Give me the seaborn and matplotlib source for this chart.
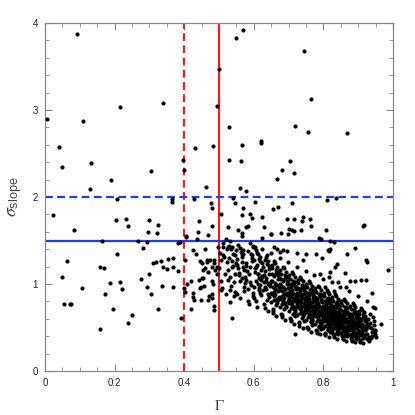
import matplotlib
matplotlib.use("Agg")
import matplotlib.pyplot as plt
import numpy as np
import pandas as pd
import seaborn as sns
from matplotlib.ticker import MultipleLocator

# scattered points (outliers above the cuts and left of gamma = 0.5)
sparse_x = [
    0.093, 0.006, 0.039, 0.049, 0.108, 0.131, 0.129, 0.191, 0.206, 0.215,
    0.305, 0.338, 0.364, 0.365, 0.397, 0.400, 0.432, 0.427, 0.463, 0.477,
    0.481, 0.482, 0.494, 0.500, 0.529, 0.530, 0.548, 0.570, 0.566, 0.562,
    0.559, 0.577, 0.541, 0.545, 0.568, 0.604, 0.620, 0.621, 0.655, 0.670,
    0.668, 0.680, 0.704, 0.715, 0.711, 0.718, 0.743, 0.763, 0.755, 0.809,
    0.837, 0.867, 0.024, 0.084, 0.205, 0.233, 0.238, 0.163, 0.062, 0.206,
    0.505, 0.298, 0.325, 0.297, 0.322, 0.442, 0.441, 0.481, 0.467, 0.404,
    0.406, 0.437, 0.266, 0.293, 0.281, 0.381, 0.388, 0.424, 0.460, 0.498,
    0.511, 0.433, 0.446, 0.466, 0.487, 0.506, 0.511, 0.311, 0.318, 0.333,
    0.353, 0.368, 0.402, 0.566, 0.590, 0.595, 0.624, 0.526, 0.554, 0.578,
    0.583, 0.566, 0.629, 0.650, 0.678, 0.696, 0.716, 0.740, 0.738, 0.762,
    0.764, 0.701, 0.709, 0.716, 0.736, 0.697, 0.623, 0.519, 0.807, 0.915,
    0.918, 0.788, 0.793, 0.820, 0.830, 0.819, 0.816, 0.779, 0.869, 0.891,
    0.921, 0.924, 0.839, 0.049, 0.159, 0.171, 0.105, 0.186, 0.216, 0.220,
    0.172, 0.056, 0.071, 0.076, 0.196, 0.251, 0.239, 0.158, 0.275, 0.300,
    0.339, 0.351, 0.367, 0.381, 0.293, 0.306, 0.335, 0.367, 0.326, 0.392,
    0.400, 0.403, 0.407, 0.420, 0.426, 0.424, 0.429, 0.420, 0.443, 0.454,
    0.448, 0.444, 0.456, 0.447, 0.469, 0.471, 0.455, 0.468, 0.479, 0.489,
    0.494, 0.481, 0.483, 0.481, 0.479, 0.487, 0.485, 0.506, 0.493, 0.538,
    0.717, 0.966, 0.951, 0.949, 0.943, 0.941, 0.985, 0.921, 0.907, 0.862,
    0.876, 0.891, 0.819, 0.833, 0.742, 0.814, 0.565, 0.649, 0.532, 0.527,
    0.534, 0.589, 0.603, 0.599, 0.565, 0.568, 0.658, 0.666, 0.675, 0.685,
    0.694, 0.723, 0.750, 0.795, 0.474, 0.486, 0.465, 0.450, 0.460, 0.450,
]
sparse_y = [
    3.87, 2.90, 2.57, 2.35, 2.87, 2.39, 2.09, 2.20, 1.98, 3.03,
    2.30, 3.08, 1.98, 1.94, 2.43, 2.31, 2.56, 1.98, 2.12, 1.93,
    1.87, 2.59, 3.05, 3.47, 2.80, 2.43, 3.83, 3.92, 2.60, 2.41,
    2.10, 2.07, 1.99, 1.93, 1.87, 1.94, 2.64, 2.62, 1.86, 1.89,
    2.21, 2.31, 2.41, 2.28, 1.93, 2.82, 3.68, 3.13, 2.75, 1.97,
    1.99, 2.74, 1.79, 1.62, 1.73, 1.75, 1.67, 1.50, 1.27, 1.34,
    1.81, 1.73, 1.68, 1.60, 1.59, 1.72, 1.60, 1.67, 1.56, 1.55,
    1.54, 1.52, 1.50, 1.48, 1.41, 1.47, 1.48, 1.39, 1.40, 1.42,
    1.47, 1.34, 1.26, 1.28, 1.28, 1.28, 1.33, 1.24, 1.25, 1.27,
    1.29, 1.30, 1.28, 1.79, 1.80, 1.76, 1.77, 1.66, 1.62, 1.66,
    1.67, 1.59, 1.66, 1.57, 1.59, 1.75, 1.75, 1.77, 1.72, 1.75,
    1.67, 1.63, 1.62, 1.61, 1.62, 1.58, 1.53, 1.52, 1.62, 1.67,
    1.68, 1.53, 1.52, 1.49, 1.48, 1.40, 1.38, 1.35, 1.34, 1.41,
    1.28, 1.25, 1.23, 1.08, 1.20, 1.18, 0.95, 1.01, 1.02, 0.94,
    0.88, 0.77, 0.77, 0.77, 0.71, 0.64, 0.55, 0.48, 1.06, 1.11,
    1.19, 1.17, 1.20, 1.15, 0.97, 0.89, 0.98, 0.96, 0.71, 0.61,
    0.95, 0.91, 1.00, 1.04, 0.90, 0.85, 0.82, 0.71, 1.05, 1.07,
    0.96, 0.95, 0.98, 0.82, 0.82, 0.86, 1.16, 1.14, 1.19, 1.16,
    1.12, 1.03, 1.00, 0.89, 0.84, 0.75, 0.70, 0.93, 1.20, 0.61,
    0.42, 0.54, 0.39, 0.47, 0.73, 0.90, 1.16, 1.05, 1.05, 1.13,
    1.04, 1.03, 1.14, 1.20, 1.28, 1.39, 1.55, 1.57, 1.50, 1.42,
    1.40, 1.47, 1.43, 1.44, 1.35, 1.39, 1.42, 1.40, 1.37, 1.39,
    1.38, 1.36, 1.35, 1.30, 1.28, 1.24, 1.25, 1.24, 1.18, 1.07,
]

# the dense cloud, read column by column from left to right
cluster_x = [
    0.503, 0.518, 0.509, 0.522, 0.512, 0.506, 0.520, 0.515, 0.501, 0.524,
    0.528, 0.541, 0.535, 0.547, 0.531, 0.544, 0.538, 0.526, 0.549, 0.533,
    0.542, 0.529, 0.546, 0.537, 0.532, 0.548, 0.527, 0.540, 0.545, 0.536,
    0.553, 0.566, 0.559, 0.572, 0.556, 0.569, 0.561, 0.551, 0.574, 0.563,
    0.558, 0.571, 0.554, 0.567, 0.560, 0.573, 0.552, 0.565, 0.570, 0.557,
    0.578, 0.591, 0.584, 0.597, 0.581, 0.594, 0.587, 0.576, 0.599, 0.589,
    0.583, 0.596, 0.579, 0.592, 0.586, 0.598, 0.577, 0.590, 0.595, 0.582,
    0.603, 0.616, 0.609, 0.622, 0.606, 0.619, 0.611, 0.601, 0.624, 0.613,
    0.608, 0.621, 0.604, 0.617, 0.610, 0.623, 0.602, 0.615, 0.620, 0.607,
    0.612, 0.618, 0.605, 0.614, 0.625, 0.600, 0.611, 0.619, 0.606, 0.616,
    0.628, 0.641, 0.634, 0.647, 0.631, 0.644, 0.636, 0.626, 0.649, 0.638,
    0.633, 0.646, 0.629, 0.642, 0.635, 0.648, 0.627, 0.640, 0.645, 0.632,
    0.637, 0.643, 0.630, 0.639, 0.650, 0.625, 0.636, 0.644, 0.631, 0.641,
    0.653, 0.666, 0.659, 0.672, 0.656, 0.669, 0.661, 0.651, 0.674, 0.663,
    0.658, 0.671, 0.654, 0.667, 0.660, 0.673, 0.652, 0.665, 0.670, 0.657,
    0.662, 0.668, 0.655, 0.664, 0.675, 0.650, 0.661, 0.669, 0.656, 0.666,
    0.659, 0.672, 0.653, 0.667, 0.662, 0.674, 0.657, 0.664, 0.670, 0.651,
    0.678, 0.691, 0.684, 0.697, 0.681, 0.694, 0.686, 0.676, 0.699, 0.688,
    0.683, 0.696, 0.679, 0.692, 0.685, 0.698, 0.677, 0.690, 0.695, 0.682,
    0.687, 0.693, 0.680, 0.689, 0.700, 0.675, 0.686, 0.694, 0.681, 0.691,
    0.684, 0.697, 0.678, 0.692, 0.687, 0.699, 0.682, 0.689, 0.695, 0.676,
    0.703, 0.716, 0.709, 0.722, 0.706, 0.719, 0.711, 0.701, 0.724, 0.713,
    0.708, 0.721, 0.704, 0.717, 0.710, 0.723, 0.702, 0.715, 0.720, 0.707,
    0.712, 0.718, 0.705, 0.714, 0.725, 0.700, 0.711, 0.719, 0.706, 0.716,
    0.709, 0.722, 0.703, 0.717, 0.712, 0.724, 0.707, 0.714, 0.720, 0.701,
    0.705, 0.718, 0.710, 0.723, 0.708, 0.715, 0.702, 0.721, 0.713, 0.719,
    0.728, 0.741, 0.734, 0.747, 0.731, 0.744, 0.736, 0.726, 0.749, 0.738,
    0.733, 0.746, 0.729, 0.742, 0.735, 0.748, 0.727, 0.740, 0.745, 0.732,
    0.737, 0.743, 0.730, 0.739, 0.750, 0.725, 0.736, 0.744, 0.731, 0.741,
    0.734, 0.747, 0.728, 0.742, 0.737, 0.749, 0.732, 0.739, 0.745, 0.726,
    0.730, 0.743, 0.735, 0.748, 0.733, 0.740, 0.727, 0.746, 0.738, 0.744,
    0.753, 0.766, 0.759, 0.772, 0.756, 0.769, 0.761, 0.751, 0.774, 0.763,
    0.758, 0.771, 0.754, 0.767, 0.760, 0.773, 0.752, 0.765, 0.770, 0.757,
    0.762, 0.768, 0.755, 0.764, 0.775, 0.750, 0.761, 0.769, 0.756, 0.766,
    0.759, 0.772, 0.753, 0.767, 0.762, 0.774, 0.757, 0.764, 0.770, 0.751,
    0.755, 0.768, 0.760, 0.773, 0.758, 0.765, 0.752, 0.771, 0.763, 0.769,
    0.754, 0.767, 0.761, 0.774, 0.756, 0.763, 0.750, 0.770, 0.759, 0.766,
    0.778, 0.791, 0.784, 0.797, 0.781, 0.794, 0.786, 0.776, 0.799, 0.788,
    0.783, 0.796, 0.779, 0.792, 0.785, 0.798, 0.777, 0.790, 0.795, 0.782,
    0.787, 0.793, 0.780, 0.789, 0.800, 0.775, 0.786, 0.794, 0.781, 0.791,
    0.784, 0.797, 0.778, 0.792, 0.787, 0.799, 0.782, 0.789, 0.795, 0.776,
    0.780, 0.793, 0.785, 0.798, 0.783, 0.790, 0.777, 0.796, 0.788, 0.794,
    0.779, 0.792, 0.786, 0.799, 0.781, 0.788, 0.775, 0.795, 0.784, 0.791,
    0.803, 0.816, 0.809, 0.822, 0.806, 0.819, 0.811, 0.801, 0.824, 0.813,
    0.808, 0.821, 0.804, 0.817, 0.810, 0.823, 0.802, 0.815, 0.820, 0.807,
    0.812, 0.818, 0.805, 0.814, 0.825, 0.800, 0.811, 0.819, 0.806, 0.816,
    0.809, 0.822, 0.803, 0.817, 0.812, 0.824, 0.807, 0.814, 0.820, 0.801,
    0.805, 0.818, 0.810, 0.823, 0.808, 0.815, 0.802, 0.821, 0.813, 0.819,
    0.804, 0.817, 0.811, 0.824, 0.806, 0.813, 0.800, 0.820, 0.809, 0.816,
    0.802, 0.815, 0.808, 0.821, 0.804, 0.818, 0.810, 0.823, 0.806, 0.812,
    0.828, 0.841, 0.834, 0.847, 0.831, 0.844, 0.836, 0.826, 0.849, 0.838,
    0.833, 0.846, 0.829, 0.842, 0.835, 0.848, 0.827, 0.840, 0.845, 0.832,
    0.837, 0.843, 0.830, 0.839, 0.850, 0.825, 0.836, 0.844, 0.831, 0.841,
    0.834, 0.847, 0.828, 0.842, 0.837, 0.849, 0.832, 0.839, 0.845, 0.826,
    0.830, 0.843, 0.835, 0.848, 0.833, 0.840, 0.827, 0.846, 0.838, 0.844,
    0.829, 0.842, 0.836, 0.849, 0.831, 0.838, 0.825, 0.845, 0.834, 0.841,
    0.827, 0.840, 0.833, 0.846, 0.829, 0.843, 0.835, 0.848, 0.831, 0.837,
    0.853, 0.866, 0.859, 0.872, 0.856, 0.869, 0.861, 0.851, 0.874, 0.863,
    0.858, 0.871, 0.854, 0.867, 0.860, 0.873, 0.852, 0.865, 0.870, 0.857,
    0.862, 0.868, 0.855, 0.864, 0.875, 0.850, 0.861, 0.869, 0.856, 0.866,
    0.859, 0.872, 0.853, 0.867, 0.862, 0.874, 0.857, 0.864, 0.870, 0.851,
    0.855, 0.868, 0.860, 0.873, 0.858, 0.865, 0.852, 0.871, 0.863, 0.869,
    0.854, 0.867, 0.861, 0.874, 0.856, 0.863, 0.850, 0.870, 0.859, 0.866,
    0.878, 0.891, 0.884, 0.897, 0.881, 0.894, 0.886, 0.876, 0.899, 0.888,
    0.883, 0.896, 0.879, 0.892, 0.885, 0.898, 0.877, 0.890, 0.895, 0.882,
    0.887, 0.893, 0.880, 0.889, 0.900, 0.875, 0.886, 0.894, 0.881, 0.891,
    0.884, 0.897, 0.878, 0.892, 0.887, 0.899, 0.882, 0.889, 0.895, 0.876,
    0.880, 0.893, 0.885, 0.898, 0.883, 0.890, 0.877, 0.896, 0.888, 0.894,
    0.903, 0.916, 0.909, 0.922, 0.906, 0.919, 0.911, 0.901, 0.924, 0.913,
    0.908, 0.921, 0.904, 0.917, 0.910, 0.923, 0.902, 0.915, 0.920, 0.907,
    0.912, 0.918, 0.905, 0.914, 0.925, 0.900, 0.911, 0.919, 0.906, 0.916,
    0.909, 0.922, 0.903, 0.917, 0.912, 0.924, 0.907, 0.914, 0.920, 0.901,
    0.928, 0.941, 0.934, 0.947, 0.931, 0.944, 0.936, 0.926, 0.949, 0.938,
    0.933, 0.946, 0.929, 0.942, 0.935, 0.948, 0.927, 0.940, 0.945, 0.932,
]
cluster_y = [
    1.36, 1.12, 0.95, 1.25, 1.43, 1.04, 0.88, 1.31, 1.18, 1.40,
    1.44, 1.21, 0.98, 1.33, 1.08, 0.86, 1.27, 1.16, 1.39, 0.93,
    1.02, 1.30, 1.12, 1.42, 0.79, 1.24, 1.05, 1.35, 0.91, 1.19,
    1.29, 1.07, 1.41, 0.92, 1.18, 1.34, 0.84, 1.22, 1.01, 1.37,
    1.13, 0.96, 1.45, 1.25, 1.04, 1.16, 0.88, 1.31, 1.20, 1.10,
    1.24, 0.99, 1.38, 0.86, 1.15, 1.30, 0.77, 1.08, 1.42, 1.19,
    0.94, 1.27, 1.05, 1.35, 1.12, 0.90, 1.21, 1.02, 1.33, 0.81,
    1.18, 0.93, 1.36, 1.05, 0.80, 1.26, 1.11, 0.97, 1.40, 1.00,
    1.22, 0.87, 1.14, 1.31, 0.74, 1.08, 1.28, 0.95, 1.16, 1.03,
    1.34, 0.90, 1.20, 1.07, 1.24, 0.84, 1.12, 0.99, 1.39, 1.29,
    1.10, 0.88, 1.31, 0.98, 0.72, 1.21, 1.04, 0.93, 1.36, 0.82,
    1.15, 1.01, 0.77, 1.26, 1.07, 0.90, 1.19, 0.69, 1.12, 0.96,
    1.33, 0.85, 1.02, 1.23, 0.79, 1.09, 0.94, 1.17, 1.28, 1.00,
    1.04, 0.83, 1.26, 0.93, 0.67, 1.14, 0.98, 0.88, 1.30, 0.76,
    1.09, 0.95, 0.71, 1.20, 1.01, 0.85, 1.12, 0.63, 1.06, 0.91,
    1.24, 0.80, 0.97, 1.16, 0.74, 1.03, 0.89, 1.10, 0.69, 0.99,
    0.86, 1.07, 1.18, 0.78, 0.94, 1.00, 0.82, 1.13, 0.92, 1.22,
    0.98, 0.78, 1.20, 0.88, 0.62, 1.08, 0.93, 0.83, 1.25, 0.71,
    1.03, 0.90, 0.66, 1.14, 0.96, 0.80, 1.06, 0.59, 1.00, 0.86,
    1.18, 0.75, 0.92, 1.10, 0.69, 0.97, 0.84, 1.04, 0.64, 0.94,
    0.81, 1.01, 1.12, 0.73, 0.89, 0.95, 0.77, 1.07, 0.87, 1.16,
    0.92, 0.73, 1.14, 0.83, 0.57, 1.02, 0.88, 0.78, 1.20, 0.66,
    0.97, 0.85, 0.61, 1.08, 0.91, 0.75, 1.00, 0.54, 0.94, 0.81,
    1.12, 0.70, 0.87, 1.04, 0.64, 0.90, 0.79, 0.98, 0.59, 0.89,
    0.76, 0.95, 1.06, 0.68, 0.84, 0.90, 0.72, 1.01, 0.82, 1.10,
    0.86, 0.63, 0.93, 0.77, 0.99, 0.71, 0.84, 0.96, 0.74, 0.80,
    0.87, 0.68, 1.08, 0.78, 0.52, 0.97, 0.83, 0.73, 1.15, 0.61,
    0.92, 0.80, 0.56, 1.03, 0.86, 0.70, 0.95, 0.49, 0.89, 0.76,
    1.06, 0.65, 0.82, 0.99, 0.59, 0.85, 0.74, 0.93, 0.55, 0.84,
    0.71, 0.90, 1.01, 0.63, 0.79, 0.85, 0.67, 0.96, 0.77, 1.05,
    0.81, 0.58, 0.88, 0.72, 0.94, 0.66, 0.79, 0.91, 0.69, 0.75,
    0.82, 0.63, 1.03, 0.73, 0.48, 0.92, 0.78, 0.68, 1.10, 0.57,
    0.87, 0.75, 0.51, 0.98, 0.81, 0.65, 0.90, 0.45, 0.84, 0.71,
    1.01, 0.60, 0.77, 0.94, 0.54, 0.80, 0.69, 0.88, 0.50, 0.79,
    0.66, 0.85, 0.96, 0.58, 0.74, 0.80, 0.62, 0.91, 0.72, 1.00,
    0.76, 0.53, 0.83, 0.67, 0.89, 0.61, 0.74, 0.86, 0.64, 0.70,
    0.78, 0.59, 0.93, 0.72, 0.84, 0.56, 0.97, 0.68, 0.81, 0.75,
    0.77, 0.58, 0.98, 0.68, 0.44, 0.87, 0.73, 0.63, 1.06, 0.52,
    0.82, 0.70, 0.47, 0.93, 0.76, 0.60, 0.85, 0.42, 0.79, 0.66,
    0.96, 0.55, 0.72, 0.89, 0.49, 0.75, 0.64, 0.83, 0.46, 0.74,
    0.61, 0.80, 0.91, 0.53, 0.69, 0.75, 0.57, 0.86, 0.67, 0.95,
    0.71, 0.48, 0.78, 0.62, 0.84, 0.56, 0.69, 0.81, 0.59, 0.65,
    0.73, 0.54, 0.88, 0.67, 0.79, 0.51, 0.92, 0.63, 0.76, 1.12,
    0.72, 0.54, 0.93, 0.63, 0.41, 0.82, 0.68, 0.58, 1.02, 0.48,
    0.77, 0.65, 0.44, 0.88, 0.71, 0.56, 0.80, 0.39, 0.74, 0.61,
    0.91, 0.51, 0.67, 0.84, 0.46, 0.70, 0.59, 0.78, 0.43, 0.69,
    0.57, 0.75, 0.86, 0.49, 0.64, 0.70, 0.53, 0.81, 0.62, 0.90,
    0.66, 0.45, 0.73, 0.58, 0.79, 0.52, 0.64, 0.76, 0.55, 0.60,
    0.68, 0.50, 0.83, 0.62, 0.74, 0.47, 0.87, 0.59, 0.71, 1.08,
    0.63, 0.56, 0.77, 0.66, 0.52, 0.72, 0.60, 0.69, 0.97, 0.57,
    0.67, 0.50, 0.88, 0.59, 0.39, 0.77, 0.63, 0.54, 0.97, 0.45,
    0.72, 0.61, 0.42, 0.83, 0.66, 0.52, 0.75, 0.37, 0.69, 0.57,
    0.86, 0.48, 0.63, 0.79, 0.44, 0.65, 0.55, 0.73, 0.41, 0.64,
    0.53, 0.70, 0.81, 0.46, 0.60, 0.66, 0.49, 0.76, 0.58, 0.85,
    0.62, 0.43, 0.68, 0.54, 0.74, 0.48, 0.60, 0.71, 0.51, 0.56,
    0.64, 0.47, 0.78, 0.58, 0.69, 0.44, 0.82, 0.55, 0.67, 1.02,
    0.59, 0.52, 0.72, 0.62, 0.49, 0.67, 0.56, 0.64, 0.92, 0.53,
    0.63, 0.47, 0.83, 0.55, 0.37, 0.72, 0.59, 0.50, 0.92, 0.42,
    0.67, 0.57, 0.40, 0.78, 0.62, 0.48, 0.70, 0.35, 0.65, 0.53,
    0.81, 0.45, 0.59, 0.74, 0.41, 0.61, 0.51, 0.68, 0.38, 0.60,
    0.49, 0.66, 0.76, 0.43, 0.56, 0.62, 0.46, 0.71, 0.54, 0.80,
    0.58, 0.40, 0.64, 0.50, 0.69, 0.44, 0.56, 0.67, 0.47, 0.52,
    0.60, 0.44, 0.73, 0.54, 0.65, 0.41, 0.77, 0.51, 0.63, 0.97,
    0.59, 0.44, 0.78, 0.51, 0.35, 0.68, 0.55, 0.47, 0.86, 0.40,
    0.63, 0.53, 0.38, 0.73, 0.58, 0.45, 0.66, 0.33, 0.61, 0.49,
    0.76, 0.42, 0.56, 0.70, 0.39, 0.57, 0.48, 0.64, 0.36, 0.56,
    0.46, 0.62, 0.71, 0.41, 0.52, 0.58, 0.43, 0.67, 0.50, 0.75,
    0.54, 0.37, 0.60, 0.47, 0.65, 0.41, 0.52, 0.63, 0.44, 0.49,
    0.55, 0.41, 0.72, 0.48, 0.33, 0.63, 0.51, 0.44, 0.80, 0.38,
    0.59, 0.50, 0.36, 0.68, 0.54, 0.42, 0.61, 0.32, 0.57, 0.46,
    0.70, 0.39, 0.52, 0.65, 0.37, 0.53, 0.45, 0.60, 0.35, 0.52,
    0.43, 0.58, 0.66, 0.40, 0.49, 0.54, 0.41, 0.62, 0.47, 0.69,
    0.52, 0.40, 0.66, 0.46, 0.35, 0.58, 0.49, 0.43, 0.72, 0.38,
    0.55, 0.47, 0.37, 0.62, 0.51, 0.42, 0.60, 0.45, 0.53, 0.39,
]

# selection cuts
gamma_cuts = [0.4, 0.5]
sigma_cuts = [1.5, 2.0]

df = pd.DataFrame({
    "gamma": sparse_x + cluster_x,
    "sigma": sparse_y + cluster_y,
})

sns.set_style("ticks")
plt.rcParams["font.family"] = ["Liberation Sans", "DejaVu Sans"]
plt.rcParams["mathtext.fontset"] = "stix"

fig = plt.figure(figsize=(4.15, 4.15), dpi=100)
ax = fig.add_axes([0.1084, 0.106, 0.8386, 0.8386])

# cut lines drawn first, points on top
ax.axvline(gamma_cuts[0], color="#ff1a1a", lw=1.6, ls=(0, (3.5, 2)), zorder=1)
ax.axvline(gamma_cuts[1], color="#ff1a1a", lw=1.6, zorder=1)
ax.axhline(sigma_cuts[1], color="#1a3cff", lw=1.6, ls=(0, (3.5, 2)), zorder=1)
ax.axhline(sigma_cuts[0], color="#1a3cff", lw=1.6, zorder=1)

sns.scatterplot(data=df, x="gamma", y="sigma", ax=ax, color="black",
                s=9, linewidth=0, zorder=3, legend=False)

ax.set_xlim(0, 1)
ax.set_ylim(0, 4)
ax.xaxis.set_major_locator(MultipleLocator(0.2))
ax.xaxis.set_minor_locator(MultipleLocator(0.05))
ax.yaxis.set_major_locator(MultipleLocator(1))
ax.yaxis.set_minor_locator(MultipleLocator(0.2))
ax.xaxis.set_major_formatter(plt.FuncFormatter(lambda v, p: "%g" % v))
ax.yaxis.set_major_formatter(plt.FuncFormatter(lambda v, p: "%g" % v))

ax.tick_params(which="both", direction="in", top=True, right=True,
               color="#888888", labelsize=7, labelcolor="#222222")
ax.tick_params(which="major", length=5, width=0.8, pad=5)
ax.tick_params(which="minor", length=3, width=0.6)
for sp in ax.spines.values():
    sp.set_color("#888888")
    sp.set_linewidth(0.9)

ax.set_xlabel(r"$\Gamma$", fontsize=11, color="#444444", labelpad=8)
ax.set_ylabel(r"$\sigma_{\mathregular{slope}}$", fontsize=13, color="#444444", labelpad=6)

fig.savefig("out.png", dpi=100)
